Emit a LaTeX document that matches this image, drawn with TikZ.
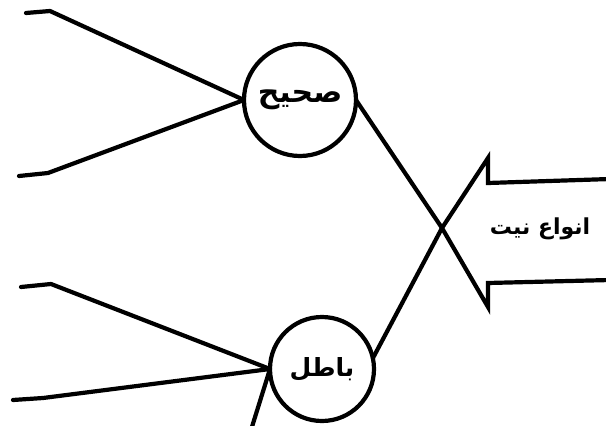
\documentclass[tikz,border=0pt]{standalone}
\usepackage{fontspec}
\newfontfamily\arabicfont[Script=Arabic]{DejaVu Sans}
\TeXXeTstate=1
\begin{document}
\begin{tikzpicture}[x=1pt,y=-1pt,line width=4.2pt,line join=round,line cap=round,
  circ/.style={circle,draw,line width=4.2pt,inner sep=0pt,outer sep=0pt},
  lbl/.style={font=\arabicfont\bfseries\fontsize{#1}{#1}\selectfont},
  lbl/.default=24]
\useasboundingbox (0,0) rectangle (606,426);
% circles
\node[circ,minimum size=112pt,lbl=30] (s) at (300,100) {\beginR صحیح\endR};
\node[circ,minimum size=104pt,lbl=25] (b) at (322,369) {\beginR باطل\endR};
% left ends
\coordinate (a1) at (26,13);  \coordinate (a1b) at (50,11);
\coordinate (a2) at (19,176); \coordinate (a2b) at (48,173);
\coordinate (c1) at (21,287); \coordinate (c1b) at (51,284);
\coordinate (c2) at (13,400); \coordinate (c2b) at (43,398);
\coordinate (d) at (251,430);
\draw (a1) -- (a1b) -- (s.west);
\draw (a2) -- (a2b) -- (s.west);
\draw (c1) -- (c1b) -- (b.west);
\draw (c2) -- (c2b) -- (b.west);
\draw (b.west) -- (d);
% arrow
\coordinate (j) at (442,228);
\coordinate (t1) at (610,179); \coordinate (t2) at (488,183); \coordinate (t3) at (488,158);
\coordinate (t4) at (488,307); \coordinate (t5) at (488,283); \coordinate (t6) at (610,280);
\draw[line join=miter] (t1) -- (t2) -- (t3) -- (j) -- (t4) -- (t5) -- (t6);
\draw (s.east) -- (j);
\draw (j) -- (b.12);
\node[lbl=22] (n) at (540,229) {\beginR انواع نیت\endR};
\end{tikzpicture}
\end{document}
